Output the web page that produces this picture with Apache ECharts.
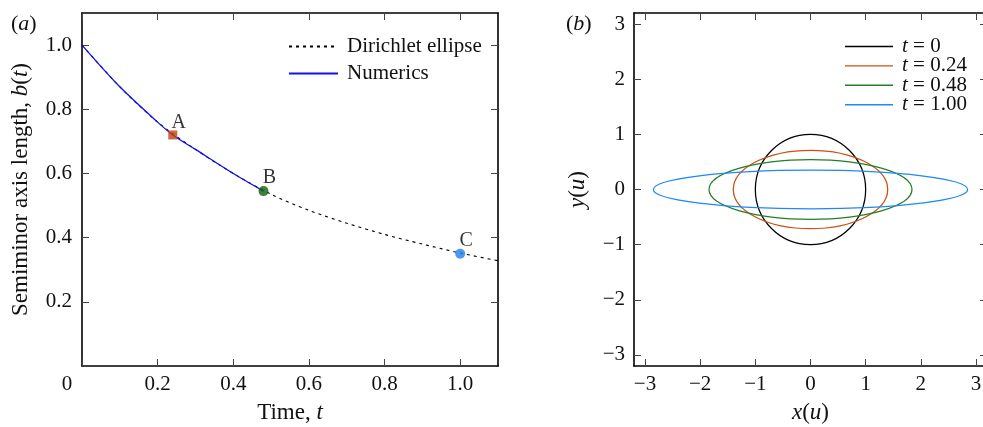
<!DOCTYPE html>
<html>
<head>
<meta charset="utf-8">
<script src="https://cdn.jsdelivr.net/npm/echarts@6/dist/echarts.min.js"></script>
<style>
html, body { margin: 0; padding: 0; background: #fff; }
#chart { width: 983px; height: 427px; }
</style>
</head>
<body>
<div id="chart"></div>
<script>
// panel (a): semiminor axis length against time
const dirichletT = [0, 0.1, 0.2, 0.3, 0.4, 0.5, 0.6, 0.7, 0.8, 0.9, 1.0, 1.1];
const dirichletB = [1.0, 0.87, 0.76, 0.675, 0.60, 0.535, 0.485, 0.445, 0.41, 0.38, 0.352, 0.328];
const numericsT = [0, 0.1, 0.2, 0.24, 0.3, 0.4, 0.48];
const numericsB = [1.0, 0.87, 0.76, 0.72, 0.675, 0.60, 0.545];
const pointNames = ["A", "B", "C"];
const pointT = [0.24, 0.48, 1.0];
const pointB = [0.72, 0.545, 0.35];
const pointColors = ["#c0430c", "#0d600d", "#1f80f0"];
const pointSymbols = ["rect", "circle", "circle"];

// panel (b): ellipse shapes at the marked times
const ellipseNames = ["t = 0", "t = 0.24", "t = 0.48", "t = 1.00"];
const semiX = [1.0, 1.40, 1.84, 2.85];
const semiY = [1.0, 0.71, 0.54, 0.35];
const ellipseColors = ["#000000", "#cc4f14", "#237f23", "#2088f8"];

const ticksA = [0, 0.2, 0.4, 0.6, 0.8, 1.0];
const ticksB = [-3, -2, -1, 0, 1, 2, 3];

const FONT = "Liberation Serif";
const INK = "#111";

const italic = { fontFamily: FONT, fontStyle: "italic", fontWeight: "normal", fontSize: 23, color: INK };

function fmtA(v) {
    return v === 0 ? "{o|0}" : v.toFixed(1);
}
function fmtB(v) {
    return v < 0 ? "\u2212" + Math.abs(v) : String(v);
}

function axisBase(min, max, gridIndex, position) {
    return {
        type: "value", gridIndex: gridIndex, position: position, min: min, max: max,
        splitLine: { show: false },
        axisLine: { show: true, onZero: false, lineStyle: { color: "#000", width: 1.6 } },
        axisTick: { show: true, inside: true, length: 7, lineStyle: { color: "#444", width: 1 } },
        axisLabel: { show: false }
    };
}

function withLabels(ax, values, fmt, margin) {
    ax.axisLabel = {
        show: true, customValues: values, formatter: fmt, margin: margin,
        fontFamily: FONT, fontSize: 21, color: INK,
        rich: { o: { fontFamily: FONT, fontSize: 21, color: INK, padding: [0, 30, 0, 0] } }
    };
    ax.axisTick.customValues = values;
    return ax;
}

function axisName(ax, name, gap) {
    ax.name = name;
    ax.nameLocation = "middle";
    ax.nameGap = gap;
    ax.nameTextStyle = { fontFamily: FONT, fontSize: 23, color: INK, rich: { i: italic } };
    return ax;
}

const xA = axisName(withLabels(axisBase(0, 1.1, 0, "bottom"), ticksA, fmtA, 8), "Time, {i|t}", 35);
const xAtop = axisBase(0, 1.1, 0, "top");
xAtop.axisTick.customValues = ticksA;

const yA = axisName(withLabels(axisBase(0, 1.1, 0, "left"), ticksA.slice(1), (v) => v.toFixed(1), 10),
    "Semiminor axis length, {i|b}({i|t})", 50);
const yAright = axisBase(0, 1.1, 0, "right");
yAright.axisTick.customValues = ticksA.slice(1);

const xB = axisName(withLabels(axisBase(-3.2, 3.2, 1, "bottom"), ticksB, fmtB, 8), "{i|x}({i|u})", 35);
const xBtop = axisBase(-3.2, 3.2, 1, "top");
xBtop.axisTick.customValues = ticksB;

const yB = axisName(withLabels(axisBase(-3.2, 3.2, 1, "left"), ticksB, fmtB, 9), "{i|y}({i|u})", 45);
const yBright = axisBase(-3.2, 3.2, 1, "right");
yBright.axisTick.customValues = ticksB;

const series = [
    {
        name: "Dirichlet ellipse", type: "line", xAxisIndex: 0, yAxisIndex: 0,
        data: dirichletT.map((t, i) => [t, dirichletB[i]]),
        smooth: 0.3, symbol: "none", silent: true,
        lineStyle: { color: "#000", width: 1.1, type: [3, 4] },
        itemStyle: { color: "#000" }
    },
    {
        name: "Numerics", type: "line", xAxisIndex: 0, yAxisIndex: 0,
        data: numericsT.map((t, i) => [t, numericsB[i]]),
        smooth: 0.3, symbol: "none", silent: true,
        lineStyle: { color: "#1010f0", width: 1.3 },
        itemStyle: { color: "#1010f0" }
    },
    {
        name: "points", type: "scatter", xAxisIndex: 0, yAxisIndex: 0, z: 5,
        data: pointNames.map((n, i) => ({
            name: n, value: [pointT[i], pointB[i]],
            symbol: pointSymbols[i],
            symbolSize: pointSymbols[i] === "rect" ? 9 : 10,
            itemStyle: { color: pointColors[i] }
        })),
        label: {
            show: true, position: "top", distance: 2, offset: [6, 4],
            formatter: (p) => p.name,
            fontFamily: FONT, fontSize: 20, color: "#000"
        }
    }
];

ellipseNames.forEach((name, i) => {
    series.push({
        name: name, type: "custom", xAxisIndex: 2, yAxisIndex: 2,
        coordinateSystem: "cartesian2d",
        data: [[0, 0, semiX[i], semiY[i]]],
        encode: { x: 0, y: 1 },
        itemStyle: { color: ellipseColors[i] },
        silent: true,
        renderItem: function (params, api) {
            const c = api.coord([api.value(0), api.value(1)]);
            const s = api.size([api.value(2), api.value(3)]);
            return {
                type: "ellipse",
                shape: { cx: c[0], cy: c[1], rx: s[0], ry: s[1] },
                style: { fill: null, stroke: ellipseColors[i], lineWidth: 1.25 }
            };
        }
    });
});

function panelTitle(letter, left) {
    return {
        text: "({i|" + letter + "})", left: left, top: 8,
        textStyle: {
            fontFamily: FONT, fontSize: 22, fontWeight: "normal", color: INK,
            rich: { i: Object.assign({}, italic, { fontSize: 22 }) }
        }
    };
}

const option = {
    animation: false,
    backgroundColor: "#fff",
    title: [panelTitle("a", 6), panelTitle("b", 561)],
    grid: [
        { left: 82, top: 13, right: 485, bottom: 61, outerBoundsMode: "none" },
        { left: 634, top: 13, right: -4, bottom: 61, outerBoundsMode: "none" }
    ],
    legend: [
        {
            data: ["Dirichlet ellipse", "Numerics"],
            orient: "vertical", left: 288, top: 36, padding: 0,
            itemWidth: 49, itemHeight: 14, itemGap: 6,
            selectedMode: false,
            itemStyle: { color: "rgba(0,0,0,0)", borderColor: "rgba(0,0,0,0)", borderWidth: 0 },
            textStyle: { fontFamily: FONT, fontSize: 21, color: INK, lineHeight: 20, padding: [0, 0, 0, 4] }
        },
        {
            data: ellipseNames,
            orient: "vertical", left: 845, top: 36, padding: 0,
            icon: "rect", itemWidth: 48, itemHeight: 1.4, itemGap: -1.6,
            selectedMode: false,
            formatter: (name) => "{i|t}" + name.slice(1),
            textStyle: {
                fontFamily: FONT, fontSize: 21, color: INK, lineHeight: 19, padding: [0, 0, 0, 4],
                rich: { i: { fontFamily: FONT, fontStyle: "italic", fontSize: 21, color: INK, lineHeight: 19 } }
            }
        }
    ],
    xAxis: [xA, xAtop, xB, xBtop],
    yAxis: [yA, yAright, yB, yBright],
    series: series
};

const chart = echarts.init(document.getElementById("chart"), null, { renderer: "canvas" });
chart.setOption(option);
</script>
</body>
</html>
